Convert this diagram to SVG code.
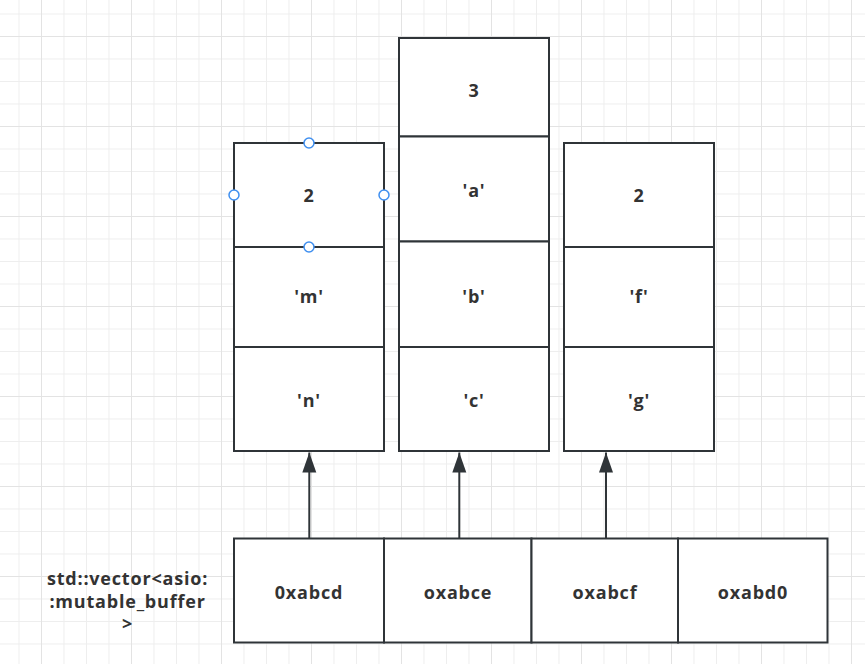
<svg xmlns="http://www.w3.org/2000/svg" width="865" height="664" viewBox="0 0 865 664">
<defs>
<pattern id="minor" patternUnits="userSpaceOnUse" x="18.5" y="13.5" width="22.5" height="22.5">
<path d="M0 0.5H22.5M0.5 0V22.5" fill="none" stroke="#eeeeee" stroke-width="1"/>
</pattern>
<pattern id="major" patternUnits="userSpaceOnUse" x="41" y="36" width="90" height="90">
<path d="M0 0.5H90M0.5 0V90" fill="none" stroke="#e3e3e3" stroke-width="1"/>
</pattern>
<marker id="arr" markerUnits="userSpaceOnUse" markerWidth="22" markerHeight="16" refX="20" refY="7" orient="auto">
<path d="M0 0L20 7L0 14Z" fill="#2f3438"/>
</marker>
<style>
.cell{fill:#ffffff;stroke:#2f3438;stroke-width:2}
.t{font-family:"Open Sans","Noto Sans",sans-serif;font-weight:bold;font-size:18px;letter-spacing:0.8px;fill:#333333;text-anchor:middle;dominant-baseline:central}
.h{fill:#ffffff;stroke:#3f8ff0;stroke-width:1.5}
.edge{stroke:#2f3438;stroke-width:2;fill:none}
</style>
</defs>
<rect width="865" height="664" fill="#ffffff"/>
<rect width="865" height="664" fill="url(#minor)"/>
<rect width="865" height="664" fill="url(#major)"/>

<g id="stack1">
<rect class="cell" x="234" y="143" width="150" height="104"/>
<rect class="cell" x="234" y="247" width="150" height="100"/>
<rect class="cell" x="234" y="347" width="150" height="104"/>
<text class="t" x="309" y="195">2</text>
<text class="t" x="309" y="296">'m'</text>
<text class="t" x="309" y="400">'n'</text>
</g>

<g id="stack2">
<rect class="cell" x="399" y="38" width="150" height="98.5"/>
<rect class="cell" x="399" y="136.5" width="150" height="105"/>
<rect class="cell" x="399" y="241.5" width="150" height="105.5"/>
<rect class="cell" x="399" y="347" width="150" height="104"/>
<text class="t" x="474" y="90">3</text>
<text class="t" x="474" y="190">'a'</text>
<text class="t" x="474" y="296">'b'</text>
<text class="t" x="474" y="400">'c'</text>
</g>

<g id="stack3">
<rect class="cell" x="564" y="143" width="150" height="104"/>
<rect class="cell" x="564" y="247" width="150" height="100"/>
<rect class="cell" x="564" y="347" width="150" height="104"/>
<text class="t" x="639" y="195">2</text>
<text class="t" x="639" y="296">'f'</text>
<text class="t" x="639" y="400">'g'</text>
</g>

<g id="vector">
<rect class="cell" x="234" y="538.5" width="150" height="104"/>
<rect class="cell" x="384" y="538.5" width="147.5" height="104"/>
<rect class="cell" x="531.5" y="538.5" width="146.5" height="104"/>
<rect class="cell" x="678" y="538.5" width="149.5" height="104"/>
<text class="t" x="309" y="591.5">0xabcd</text>
<text class="t" x="458" y="591.5">oxabce</text>
<text class="t" x="605" y="591.5">oxabcf</text>
<text class="t" x="753" y="591.5">oxabd0</text>
</g>

<g id="vector-label">
<text class="t" x="127.5" y="578">std::vector&lt;asio:</text>
<text class="t" x="127.5" y="601">:mutable_buffer</text>
<text class="t" x="127.5" y="623">&gt;</text>
</g>

<g id="connectors">
<path class="edge" d="M309.3 538V452.5" marker-end="url(#arr)"/>
<path class="edge" d="M459.3 538V452.5" marker-end="url(#arr)"/>
<path class="edge" d="M606 538V452.5" marker-end="url(#arr)"/>
</g>

<g id="handles">
<circle class="h" cx="309" cy="143" r="5"/>
<circle class="h" cx="234" cy="195" r="5"/>
<circle class="h" cx="384" cy="195" r="5"/>
<circle class="h" cx="309" cy="247" r="5"/>
</g>
</svg>
